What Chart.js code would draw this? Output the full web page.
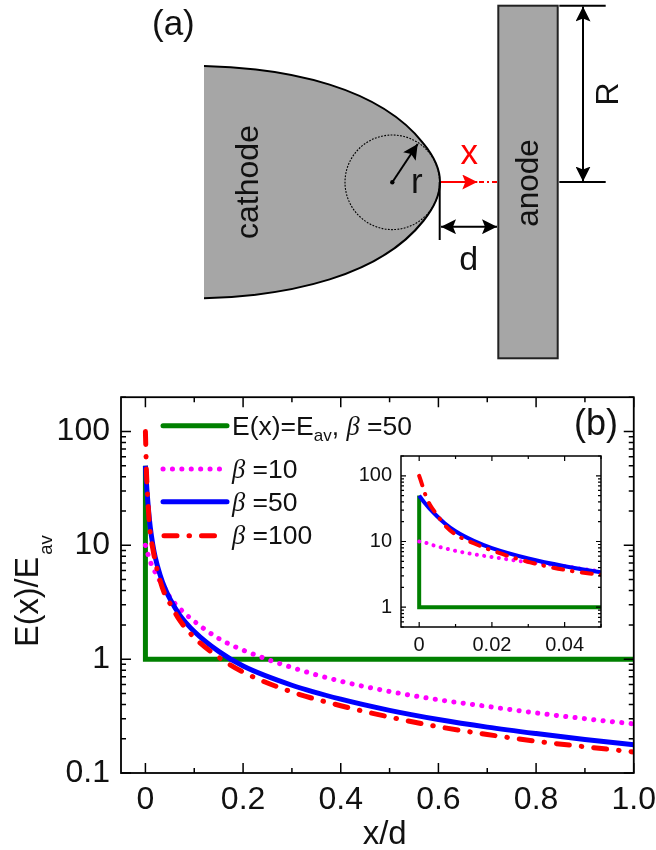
<!DOCTYPE html>
<html>
<head>
<meta charset="utf-8">
<script src="https://cdn.jsdelivr.net/npm/chart.js@4"></script>
<style>
  html, body { margin: 0; padding: 0; background: #fff; }
  #page { position: relative; width: 656px; height: 850px; overflow: hidden; }
  canvas { position: absolute; }
  #main-chart { left: 0; top: 375px; }
  #inset-chart { left: 340px; top: 440px; }
  #overlay { position: absolute; left: 0; top: 0; }
  text { font-family: 'Liberation Sans', Arial, sans-serif; fill: #111; }
  .beta { font-family: 'Liberation Serif', serif; font-style: italic; }
</style>
</head>
<body>
<div id="page">
  <canvas id="main-chart" width="656" height="470"></canvas>
  <canvas id="inset-chart" width="290" height="220"></canvas>

  <svg id="overlay" width="656" height="850" viewBox="0 0 656 850">
    <defs>
      <marker id="head-black" markerUnits="userSpaceOnUse" markerWidth="16" markerHeight="15" refX="15" refY="7.5" orient="auto-start-reverse">
        <path d="M0,0 L15,7.5 L0,15 L3,7.5 Z" fill="#000"/>
      </marker>
      <marker id="head-red" markerUnits="userSpaceOnUse" markerWidth="16" markerHeight="15" refX="15" refY="7.5" orient="auto">
        <path d="M0,0 L15,7.5 L0,15 L3,7.5 Z" fill="#f00"/>
      </marker>
    </defs>

    <!-- panel (a) schematic -->
    <text x="152" y="35" font-size="35">(a)</text>
    <path d="M204,66 C290,68 380,88 423.3,143.3 C433,155 440,168 440,182 C440,196 433,209 423.3,221 C380,276 290,296 204,298.3 Z" fill="#a6a6a6"/>
    <path d="M204,66 C290,68 380,88 423.3,143.3 C433,155 440,168 440,182 C440,196 433,209 423.3,221 C380,276 290,296 204,298.3" fill="none" stroke="#000" stroke-width="2"/>
    <circle cx="392.3" cy="182.3" r="47.3" fill="none" stroke="#000" stroke-width="1.1" stroke-dasharray="1.8 1.4"/>
    <circle cx="392.3" cy="182.3" r="2.2" fill="#000"/>
    <line x1="392.3" y1="182.3" x2="417.7" y2="144" stroke="#000" stroke-width="2" marker-end="url(#head-black)"/>
    <text x="411" y="192.7" font-size="35">r</text>
    <text transform="translate(258.3,182) rotate(-90)" text-anchor="middle" font-size="32">cathode</text>

    <rect x="498.3" y="5.7" width="59.4" height="352.6" fill="#a6a6a6" stroke="#222" stroke-width="2"/>
    <text transform="translate(538.3,183) rotate(-90)" text-anchor="middle" font-size="31.5">anode</text>

    <line x1="559.3" y1="5.7" x2="605.7" y2="5.7" stroke="#000" stroke-width="2"/>
    <line x1="559.3" y1="182" x2="605.7" y2="182" stroke="#000" stroke-width="2"/>
    <line x1="583" y1="6.5" x2="583" y2="181.5" stroke="#000" stroke-width="2" marker-start="url(#head-black)" marker-end="url(#head-black)"/>
    <text transform="translate(618,94) rotate(-90)" text-anchor="middle" font-size="32">R</text>

    <line x1="439.7" y1="182" x2="439.7" y2="240" stroke="#000" stroke-width="2"/>
    <line x1="441" y1="226.7" x2="497" y2="226.7" stroke="#000" stroke-width="2" marker-start="url(#head-black)" marker-end="url(#head-black)"/>
    <text x="468.8" y="270" text-anchor="middle" font-size="34">d</text>

    <line x1="441" y1="182" x2="477.3" y2="182" stroke="#f00" stroke-width="2" marker-end="url(#head-red)"/>
    <line x1="479" y1="182" x2="497" y2="182" stroke="#f00" stroke-width="2" stroke-dasharray="5 3 2 3 6"/>
    <text x="469.3" y="164" text-anchor="middle" font-size="35" style="fill:#f00">x</text>

    <!-- panel (b) labels -->
    <text x="574" y="435" font-size="36">(b)</text>
    <text transform="translate(38.3,647) rotate(-90)" font-size="32.5">E(x)/E<tspan dy="14" dx="2" font-size="18.5">av</tspan></text>
    <text x="384.7" y="844" text-anchor="middle" font-size="33">x/d</text>

    <!-- legend -->
    <line x1="163" y1="425.7" x2="227" y2="425.7" stroke="#008000" stroke-width="5" stroke-linecap="round"/>
    <text x="232" y="435" font-size="26.5">E(x)=E<tspan dy="6" font-size="17">av</tspan><tspan dy="-6">, </tspan><tspan class="beta">β</tspan> =50</text>
    <line x1="163" y1="469" x2="222" y2="469" stroke="#ff00ff" stroke-width="5" stroke-linecap="round" stroke-dasharray="0.1 9.3"/>
    <text x="232" y="477.7" font-size="26.5"><tspan class="beta">β</tspan> =10</text>
    <line x1="163" y1="501.7" x2="227" y2="501.7" stroke="#0000ff" stroke-width="5" stroke-linecap="round"/>
    <text x="232" y="511" font-size="26.5"><tspan class="beta">β</tspan> =50</text>
    <line x1="164" y1="535.7" x2="218" y2="535.7" stroke="#ff0000" stroke-width="5" stroke-linecap="round" stroke-dasharray="13 12 0.5 12"/>
    <text x="232" y="544" font-size="26.5"><tspan class="beta">β</tspan> =100</text>
  </svg>
</div>

<script>
// Values
const xValues = [0, 0.001, 0.002, 0.003, 0.005, 0.007, 0.01, 0.015, 0.02, 0.03, 0.04, 0.05, 0.07, 0.1, 0.15, 0.2, 0.3, 0.4, 0.5, 0.6, 0.7, 0.8, 0.9, 1.0];
const beta10 = [10, 9.8, 9.5, 9.1, 8.4, 7.9, 7.2, 6.4, 5.8, 4.85, 4.2, 3.5, 2.8, 2.15, 1.52, 1.2, 0.845, 0.64, 0.52, 0.44, 0.385, 0.337, 0.3, 0.27];
const beta50 = [50, 42, 36, 31, 24, 19, 14.3, 10.2, 7.9, 5.5, 4.2, 3.4, 2.45, 1.75, 1.17, 0.87, 0.59, 0.445, 0.355, 0.295, 0.253, 0.222, 0.197, 0.177];
const beta100 = [100, 68, 46, 36, 25, 17.8, 12.8, 9.4, 7.3, 4.9, 3.7, 3.1, 2.2, 1.55, 1.04, 0.77, 0.515, 0.39, 0.31, 0.255, 0.218, 0.19, 0.17, 0.153];
const uniformX = [0, 0, 1];
const uniformY = [50, 1, 1];

// Tick positions and labels, '' means an unlabelled minor tick
const xTicks = [0, 0.1, 0.2, 0.3, 0.4, 0.5, 0.6, 0.7, 0.8, 0.9, 1.0];
const xLabels = ['0', '', '0.2', '', '0.4', '', '0.6', '', '0.8', '', '1.0'];
const yTicks = [0.1, 0.2, 0.3, 0.4, 0.5, 0.6, 0.7, 0.8, 0.9, 1, 2, 3, 4, 5, 6, 7, 8, 9, 10, 20, 30, 40, 50, 60, 70, 80, 90, 100, 200];
const yLabels = ['0.1', '', '', '', '', '', '', '', '', '1', '', '', '', '', '', '', '', '', '10', '', '', '', '', '', '', '', '', '100', ''];
const insetXTicks = [0, 0.01, 0.02, 0.03, 0.04, 0.05];
const insetXLabels = ['0', '', '0.02', '', '0.04', ''];
const insetYTicks = [0.5, 0.6, 0.7, 0.8, 0.9, 1, 2, 3, 4, 5, 6, 7, 8, 9, 10, 20, 30, 40, 50, 60, 70, 80, 90, 100, 200];
const insetYLabels = ['', '', '', '', '', '1', '', '', '', '', '', '', '', '', '10', '', '', '', '', '', '', '', '', '100', ''];

const fontFamily = "'Liberation Sans', Arial, sans-serif";

function toPoints(xs, ys) {
  return ys.map((y, i) => ({ x: xs[i], y: y }));
}

// Frame with inward ticks on all four sides
const frameTicks = {
  id: 'frameTicks',
  afterDraw(chart, args, opts) {
    const { ctx, chartArea: a, scales } = chart;
    ctx.save();
    ctx.strokeStyle = '#000';
    ctx.lineWidth = opts.tickWidth;
    scales.x.ticks.forEach((t) => {
      const px = scales.x.getPixelForValue(t.value);
      const len = t.label !== '' ? opts.major : opts.minor;
      ctx.beginPath();
      ctx.moveTo(px, a.bottom);
      ctx.lineTo(px, a.bottom - len);
      ctx.moveTo(px, a.top);
      ctx.lineTo(px, a.top + len);
      ctx.stroke();
    });
    scales.y.ticks.forEach((t) => {
      const py = scales.y.getPixelForValue(t.value);
      const len = t.label !== '' ? opts.major : opts.minor;
      ctx.beginPath();
      ctx.moveTo(a.left, py);
      ctx.lineTo(a.left + len, py);
      ctx.moveTo(a.right, py);
      ctx.lineTo(a.right - len, py);
      ctx.stroke();
    });
    ctx.lineWidth = opts.frameWidth;
    ctx.strokeRect(a.left, a.top, a.right - a.left, a.bottom - a.top);
    ctx.restore();
  }
};

// Lower order draws on top: red over blue over magenta over green
function makeDatasets(cfg) {
  const curve = { pointRadius: 0, fill: false, clip: 0, cubicInterpolationMode: 'monotone' };
  return [
    { label: 'E(x)=Eav, β=50', order: 4, data: toPoints(uniformX, uniformY), borderColor: '#008000', borderWidth: cfg.lineWidth, pointRadius: 0, clip: 0, borderJoinStyle: 'miter' },
    { label: 'β=10', order: 3, data: toPoints(xValues, beta10), borderColor: '#ff00ff', borderWidth: cfg.lineWidth, borderDash: cfg.dotDash, borderCapStyle: 'round', ...curve },
    { label: 'β=50', order: 2, data: toPoints(xValues, beta50), borderColor: '#0000ff', borderWidth: cfg.lineWidth, ...curve },
    { label: 'β=100', order: 1, data: toPoints(xValues, beta100), borderColor: '#ff0000', borderWidth: cfg.lineWidth, borderDash: cfg.redDash, borderCapStyle: 'round', ...curve }
  ];
}

function makeChart(id, cfg) {
  return new Chart(document.getElementById(id), {
    type: 'line',
    data: { datasets: makeDatasets(cfg) },
    plugins: [frameTicks],
    options: {
      responsive: false,
      animation: false,
      layout: { autoPadding: false, padding: { left: 0, right: cfg.padRight, top: cfg.padTop, bottom: 0 } },
      plugins: {
        legend: { display: false },
        tooltip: { enabled: false },
        frameTicks: cfg.frame
      },
      scales: {
        x: {
          type: 'linear',
          min: cfg.xMin,
          max: cfg.xMax,
          grid: { display: false },
          border: { display: false },
          afterBuildTicks(scale) { scale.ticks = cfg.xTicks.map((v) => ({ value: v })); },
          afterFit(scale) { scale.height = cfg.axisHeight; },
          ticks: {
            autoSkip: false,
            maxRotation: 0,
            padding: cfg.xPad,
            color: '#111',
            font: { family: fontFamily, size: cfg.xFont },
            callback: (v, i) => cfg.xLabels[i]
          }
        },
        y: {
          type: 'logarithmic',
          min: cfg.yMin,
          max: cfg.yMax,
          grid: { display: false },
          border: { display: false },
          afterBuildTicks(scale) { scale.ticks = cfg.yTicks.map((v) => ({ value: v })); },
          afterFit(scale) { scale.width = cfg.axisWidth; },
          ticks: {
            autoSkip: false,
            padding: cfg.yPad,
            color: '#111',
            font: { family: fontFamily, size: cfg.yFont },
            callback: (v, i) => cfg.yLabels[i]
          }
        }
      }
    }
  });
}

makeChart('main-chart', {
  lineWidth: 5,
  dotDash: [0.1, 9.3],
  redDash: [13, 12, 0.5, 12],
  padRight: 16, padTop: 8, axisHeight: 72, axisWidth: 121,
  xMin: -0.05, xMax: 1.0, yMin: 0.1, yMax: 200,
  xTicks: xTicks, xLabels: xLabels, yTicks: yTicks, yLabels: yLabels,
  xFont: 32, yFont: 32, xPad: 0, yPad: 3,
  frame: { major: 10, minor: 5, tickWidth: 1.5, frameWidth: 1.8 }
});

makeChart('inset-chart', {
  lineWidth: 4,
  dotDash: [0.1, 7.3],
  redDash: [10, 9, 0.5, 9.5],
  padRight: 29, padTop: 16, axisHeight: 33, axisWidth: 61,
  xMin: -0.005, xMax: 0.05, yMin: 0.5, yMax: 200,
  xTicks: insetXTicks, xLabels: insetXLabels, yTicks: insetYTicks, yLabels: insetYLabels,
  xFont: 20, yFont: 20, xPad: -2, yPad: 1,
  frame: { major: 5, minor: 3, tickWidth: 1.2, frameWidth: 1.5 }
});
</script>
</body>
</html>
